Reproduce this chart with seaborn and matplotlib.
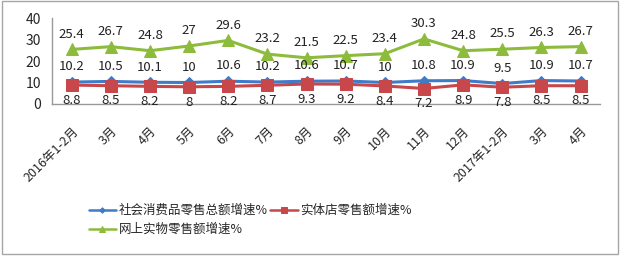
import numpy as np
import pandas as pd
import seaborn as sns
import matplotlib.pyplot as plt
from matplotlib.patches import Rectangle

sns.set_style("white")
plt.rcParams['font.family'] = ['Noto Sans CJK SC', 'DejaVu Sans']

months = ["2016年1-2月", "3月", "4月", "5月", "6月", "7月", "8月", "9月",
          "10月", "11月", "12月", "2017年1-2月", "3月", "4月"]
total = [10.2, 10.5, 10.1, 10, 10.6, 10.2, 10.6, 10.7, 10, 10.8, 10.9, 9.5, 10.9, 10.7]
store = [8.8, 8.5, 8.2, 8, 8.2, 8.7, 9.3, 9.2, 8.4, 7.2, 8.9, 7.8, 8.5, 8.5]
online = [25.4, 26.7, 24.8, 27, 29.6, 23.2, 21.5, 22.5, 23.4, 30.3, 24.8, 25.5, 26.3, 26.7]

names = ["社会消费品零售总额增速%", "实体店零售额增速%", "网上实物零售额增速%"]
colors = ["#3F7BC8", "#C8474A", "#8DBB3C"]
markers = ["D", "s", "^"]
msizes = [5, 8, 8]
offsets = [11, -11, 11]

fig = plt.figure(figsize=(6.2, 2.58), dpi=100)
ax = fig.add_axes([0.084, 0.597, 0.884, 0.333])

pos = np.arange(len(months))
for vals, name, c, m, ms, off in zip([total, store, online], names, colors, markers, msizes, offsets):
    df = pd.DataFrame({"x": pos, "y": vals})
    sns.lineplot(data=df, x="x", y="y", ax=ax, color=c, marker=m, markersize=ms,
                 markeredgecolor=c, linewidth=2.2, label=name)
    for x, y in zip(pos, vals):
        ax.annotate(f"{y:g}", (x, y), xytext=(0, off), textcoords="offset points",
                    ha="center", va="center", fontsize=9.5, color="#222222")

ax.set_xlim(-0.5, len(months) - 0.5)
ax.set_ylim(0, 40)
ax.set_yticks([0, 10, 20, 30, 40])
ax.set_xticks(pos)
ax.set_xticklabels(months, rotation=45, ha="right", rotation_mode="anchor", fontsize=9)
ax.set_xticks(np.arange(-0.5, len(months)), minor=True)
ax.tick_params(axis="x", which="major", length=0, pad=15)
ax.tick_params(axis="x", which="minor", length=3, color="#999999", direction="in")
ax.tick_params(axis="y", length=3, color="#999999", direction="in", labelsize=10, pad=8)
ax.set_xlabel("")
ax.set_ylabel("")
for s in ["top", "right"]:
    ax.spines[s].set_visible(False)
for s in ["left", "bottom"]:
    ax.spines[s].set_color("#999999")
    ax.spines[s].set_linewidth(1)

h, l = ax.get_legend_handles_labels()
order = [0, 2, 1]
leg = ax.legend([h[i] for i in order], [l[i] for i in order], ncol=2, frameon=False,
                loc="lower left", bbox_to_anchor=(0.135, 0.065), bbox_transform=fig.transFigure,
                fontsize=9, handlelength=2.2, handletextpad=0.2, columnspacing=0.2,
                labelspacing=0.5, borderaxespad=0, markerscale=0.55)
for line in leg.get_lines():
    line.set_linewidth(1.8)

fig.patches.append(Rectangle((0.003, 0.015), 0.994, 0.98, transform=fig.transFigure,
                             fill=False, edgecolor="#A6A6A6", linewidth=1))

fig.savefig("out.png", dpi=100)
